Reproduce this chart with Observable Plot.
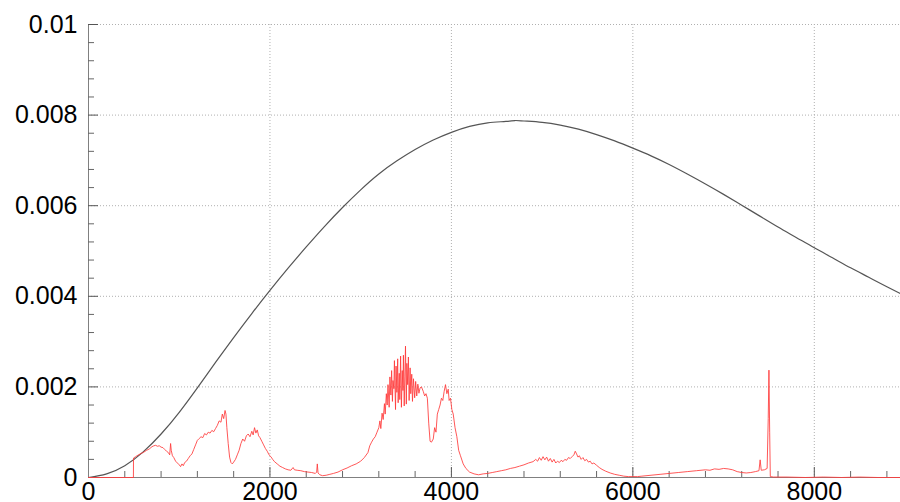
<!DOCTYPE html>
<html>
<head>
<meta charset="utf-8">
<script src="https://cdn.jsdelivr.net/npm/d3@7"></script>
<script src="https://cdn.jsdelivr.net/npm/@observablehq/plot@0.6"></script>
<style>
  html, body { margin: 0; padding: 0; background: #fff; }
</style>
</head>
<body>
<div id="chart"></div>
<script>
// ---- Data ----
const curveX = [0, 200, 400, 600, 800, 1000, 1200, 1400, 1600, 1800, 2000, 2200, 2400, 2600, 2800, 3000, 3200, 3400, 3600, 3800, 4000, 4200, 4400, 4600, 4700, 4800, 5000, 5200, 5400, 5600, 5800, 6000, 6200, 6400, 6600, 6800, 7000, 7200, 7400, 7600, 7800, 8000, 8200, 8400, 8600, 8800, 8950];
const curveY = [0, 0.00008, 0.00026, 0.00056, 0.00096, 0.00144, 0.00198, 0.00254, 0.00309, 0.00362, 0.00413, 0.00462, 0.00509, 0.00554, 0.00596, 0.00635, 0.00670, 0.00699, 0.00724, 0.00745, 0.00762, 0.00775, 0.00783, 0.00786, 0.00788, 0.00787, 0.00784, 0.00778, 0.00769, 0.00757, 0.00743, 0.00727, 0.00710, 0.00691, 0.00670, 0.00648, 0.00625, 0.00601, 0.00577, 0.00553, 0.00530, 0.00507, 0.00485, 0.00463, 0.00442, 0.00421, 0.00406];

// spectrum, part 1: 0 .. 3200
const specX1 = [0, 495, 496, 520, 550, 580, 610, 640, 670, 700, 720, 740, 760, 780, 800, 820, 840, 860, 880, 895, 905, 912, 925, 940, 960, 980, 1000, 1015, 1030, 1045, 1060, 1080, 1100, 1120, 1140, 1160, 1180, 1200, 1220, 1240, 1260, 1280, 1300, 1320, 1340, 1360, 1380, 1400, 1420, 1440, 1460, 1475, 1490, 1505, 1515, 1525, 1540, 1555, 1570, 1585, 1600, 1620, 1640, 1660, 1680, 1700, 1720, 1740, 1760, 1780, 1800, 1815, 1830, 1845, 1860, 1875, 1890, 1910, 1930, 1950, 1970, 1990, 2010, 2030, 2050, 2080, 2110, 2140, 2170, 2200, 2230, 2255, 2270, 2300, 2340, 2380, 2420, 2460, 2500, 2515, 2522, 2530, 2550, 2580, 2620, 2660, 2700, 2750, 2800, 2850, 2900, 2950, 3000, 3040, 3080, 3100, 3120, 3140, 3160, 3180, 3200];
const specY1 = [0, 0, 0.00043, 0.00046, 0.00050, 0.00053, 0.00056, 0.00060, 0.00063, 0.00068, 0.00070, 0.00071, 0.00069, 0.00070, 0.00067, 0.00066, 0.00062, 0.00058, 0.00055, 0.00050, 0.00075, 0.00060, 0.00048, 0.00044, 0.00036, 0.00032, 0.00028, 0.00024, 0.00030, 0.00026, 0.00033, 0.00036, 0.00042, 0.00048, 0.00052, 0.00062, 0.00072, 0.00082, 0.00086, 0.00090, 0.00088, 0.00097, 0.00094, 0.00100, 0.00098, 0.00104, 0.00101, 0.00108, 0.00115, 0.00125, 0.00122, 0.00140, 0.00130, 0.00148, 0.00140, 0.00110, 0.00075, 0.00045, 0.00033, 0.00030, 0.00034, 0.00040, 0.00050, 0.00060, 0.00075, 0.00085, 0.00080, 0.00092, 0.00096, 0.00090, 0.00102, 0.00094, 0.00110, 0.00098, 0.00105, 0.00092, 0.00088, 0.00080, 0.00072, 0.00064, 0.00058, 0.00050, 0.00046, 0.00040, 0.00035, 0.00030, 0.00025, 0.00022, 0.00019, 0.00017, 0.00016, 0.00022, 0.00017, 0.00016, 0.00015, 0.00013, 0.00012, 0.00011, 0.00009, 0.00012, 0.00030, 0.00010, 0.00006, 0.00004, 0.00005, 0.00007, 0.00009, 0.00012, 0.00017, 0.00021, 0.00026, 0.00030, 0.00036, 0.00044, 0.00055, 0.00070, 0.00078, 0.00085, 0.00090, 0.00100, 0.00110];

// spectrum, part 2: noisy band 3212 .. 3655
const specX2 = [3212, 3222, 3236, 3248, 3262, 3270, 3283, 3292, 3301, 3314, 3322, 3333, 3341, 3350, 3356, 3366, 3372, 3384, 3390, 3399, 3408, 3413, 3425, 3431, 3440, 3449, 3458, 3466, 3471, 3480, 3487, 3494, 3503, 3509, 3518, 3526, 3534, 3545, 3552, 3563, 3571, 3582, 3595, 3606, 3618, 3630, 3642, 3655];
const specY2 = [0.00125, 0.00108, 0.00142, 0.00128, 0.00163, 0.00140, 0.00185, 0.00160, 0.00205, 0.00155, 0.00222, 0.00182, 0.00236, 0.00168, 0.00214, 0.00196, 0.00258, 0.00150, 0.00246, 0.00188, 0.00262, 0.00165, 0.00230, 0.00172, 0.00268, 0.00155, 0.00236, 0.00192, 0.00270, 0.00158, 0.00222, 0.00290, 0.00162, 0.00252, 0.00205, 0.00266, 0.00170, 0.00242, 0.00185, 0.00228, 0.00168, 0.00218, 0.00176, 0.00212, 0.00180, 0.00206, 0.00186, 0.00198];

// spectrum, part 3: 3670 .. 8950
const specX3 = [3670, 3690, 3705, 3720, 3735, 3750, 3765, 3780, 3800, 3815, 3830, 3845, 3860, 3875, 3890, 3905, 3920, 3935, 3950, 3965, 3975, 3990, 4005, 4020, 4040, 4060, 4080, 4100, 4130, 4160, 4200, 4250, 4300, 4350, 4400, 4450, 4500, 4550, 4600, 4650, 4700, 4750, 4800, 4850, 4900, 4930, 4950, 4970, 4990, 5010, 5030, 5050, 5070, 5090, 5110, 5130, 5150, 5170, 5190, 5210, 5230, 5250, 5270, 5290, 5310, 5330, 5350, 5365, 5380, 5395, 5410, 5430, 5450, 5470, 5490, 5510, 5530, 5550, 5570, 5600, 5630, 5660, 5700, 5750, 5800, 5850, 5900, 5950, 6000, 6050, 6100, 6200, 6300, 6400, 6500, 6600, 6700, 6800, 6850, 6900, 6950, 7000, 7050, 7100, 7150, 7200, 7250, 7300, 7350, 7390, 7403, 7415, 7450, 7480, 7492, 7500, 7508, 7515, 7550, 7700, 7900, 8100, 8300, 8500, 8700, 8950];
const specY3 = [0.00200, 0.00190, 0.00180, 0.00185, 0.00175, 0.00120, 0.00080, 0.00078, 0.00085, 0.00110, 0.00100, 0.00140, 0.00150, 0.00160, 0.00175, 0.00170, 0.00190, 0.00205, 0.00185, 0.00195, 0.00170, 0.00175, 0.00150, 0.00140, 0.00110, 0.00090, 0.00060, 0.00048, 0.00030, 0.00020, 0.00012, 0.00008, 0.00006, 0.00008, 0.00009, 0.00011, 0.00013, 0.00015, 0.00017, 0.00020, 0.00022, 0.00025, 0.00028, 0.00032, 0.00035, 0.00040, 0.00036, 0.00044, 0.00038, 0.00046, 0.00039, 0.00045, 0.00036, 0.00042, 0.00034, 0.00040, 0.00032, 0.00036, 0.00033, 0.00038, 0.00035, 0.00040, 0.00038, 0.00044, 0.00042, 0.00046, 0.00050, 0.00058, 0.00052, 0.00045, 0.00048, 0.00040, 0.00044, 0.00037, 0.00040, 0.00034, 0.00036, 0.00030, 0.00032, 0.00027, 0.00022, 0.00018, 0.00014, 0.00010, 0.00007, 0.00005, 0.00003, 0.00002, 0.00002, 0.00002, 0.00003, 0.00005, 0.00007, 0.00009, 0.00011, 0.00013, 0.00015, 0.00017, 0.00016, 0.00019, 0.00018, 0.00020, 0.00019, 0.00017, 0.00013, 0.00011, 0.00010, 0.00011, 0.00013, 0.00015, 0.00039, 0.00016, 0.00017, 0.00020, 0.00130, 0.00237, 0.00100, 0.00002, 0.00001, 0.00001, 0.00000, 0.00001, 0.00000, 0.00001, 0.00000, 0.00000];

const xMajor = [0, 2000, 4000, 6000, 8000];
const xLabels = ["0", "2000", "4000", "6000", "8000"];
const xMinor = [400, 800, 1200, 1600, 2400, 2800, 3200, 3600, 4400, 4800, 5200, 5600, 6400, 6800, 7200, 7600, 8400, 8800];
const yMajor = [0, 0.002, 0.004, 0.006, 0.008, 0.01];
const yLabels = ["0", "0.002", "0.004", "0.006", "0.008", "0.01"];
const yMinor = [0.0004, 0.0008, 0.0012, 0.0016, 0.0024, 0.0028, 0.0032, 0.0036, 0.0044, 0.0048, 0.0052, 0.0056, 0.0064, 0.0068, 0.0072, 0.0076, 0.0084, 0.0088, 0.0092, 0.0096];

// ---- Build tables ----
function pairs(xs, ys) {
  if (xs.length !== ys.length) throw new Error("length mismatch " + xs.length + " vs " + ys.length);
  return xs.map((x, i) => ({x, y: ys[i]}));
}
const curve = pairs(curveX, curveY);
const spec = [...pairs(specX1, specY1), ...pairs(specX2, specY2), ...pairs(specX3, specY3)];

const W = 900, H = 502, ML = 88, MR = 0, MT = 24, MB = 25;
const PW = W - ML - MR, PH = H - MT - MB;
const axisColor = "#808080";

const chart = Plot.plot({
  width: W,
  height: H,
  marginLeft: ML,
  marginRight: MR,
  marginTop: MT,
  marginBottom: MB,
  style: {fontFamily: "'Liberation Sans', Arial, sans-serif", background: "#fff", overflow: "visible"},
  x: {domain: [0, 8950]},
  y: {domain: [0, 0.01]},
  marks: [
    Plot.gridX(xMajor.slice(1), {stroke: "#b0b0b0", strokeOpacity: 1, strokeDasharray: "1,2"}),
    Plot.gridY(yMajor.slice(1), {stroke: "#b0b0b0", strokeOpacity: 1, strokeDasharray: "1,2"}),
    Plot.ruleX([0], {stroke: axisColor}),
    Plot.ruleY([0], {stroke: axisColor}),
    // inward ticks
    Plot.tickX(xMajor.slice(1), {x: d => d, stroke: "#555", insetTop: PH - 10}),
    Plot.tickX(xMinor, {x: d => d, stroke: "#666", insetTop: PH - 6}),
    Plot.tickY(yMajor.slice(1), {y: d => d, stroke: "#555", insetRight: PW - 10}),
    Plot.tickY(yMinor, {y: d => d, stroke: "#666", insetRight: PW - 6}),
    Plot.axisX(xMajor, {tickSize: 0, tickPadding: 5, fontSize: 25, fill: "#000", label: null,
      tickFormat: d => xLabels[xMajor.indexOf(d)]}),
    Plot.axisY(yMajor, {tickSize: 0, tickPadding: 11, fontSize: 25, fill: "#000", label: null,
      tickFormat: d => yLabels[yMajor.indexOf(d)]}),
    Plot.line(curve, {x: "x", y: "y", curve: "natural", stroke: "#555", strokeWidth: 1.2}),
    Plot.line(spec, {x: "x", y: "y", stroke: "#ff3a3a", strokeOpacity: 0.85, strokeWidth: 1})
  ]
});
document.getElementById("chart").appendChild(chart);
</script>
</body>
</html>
